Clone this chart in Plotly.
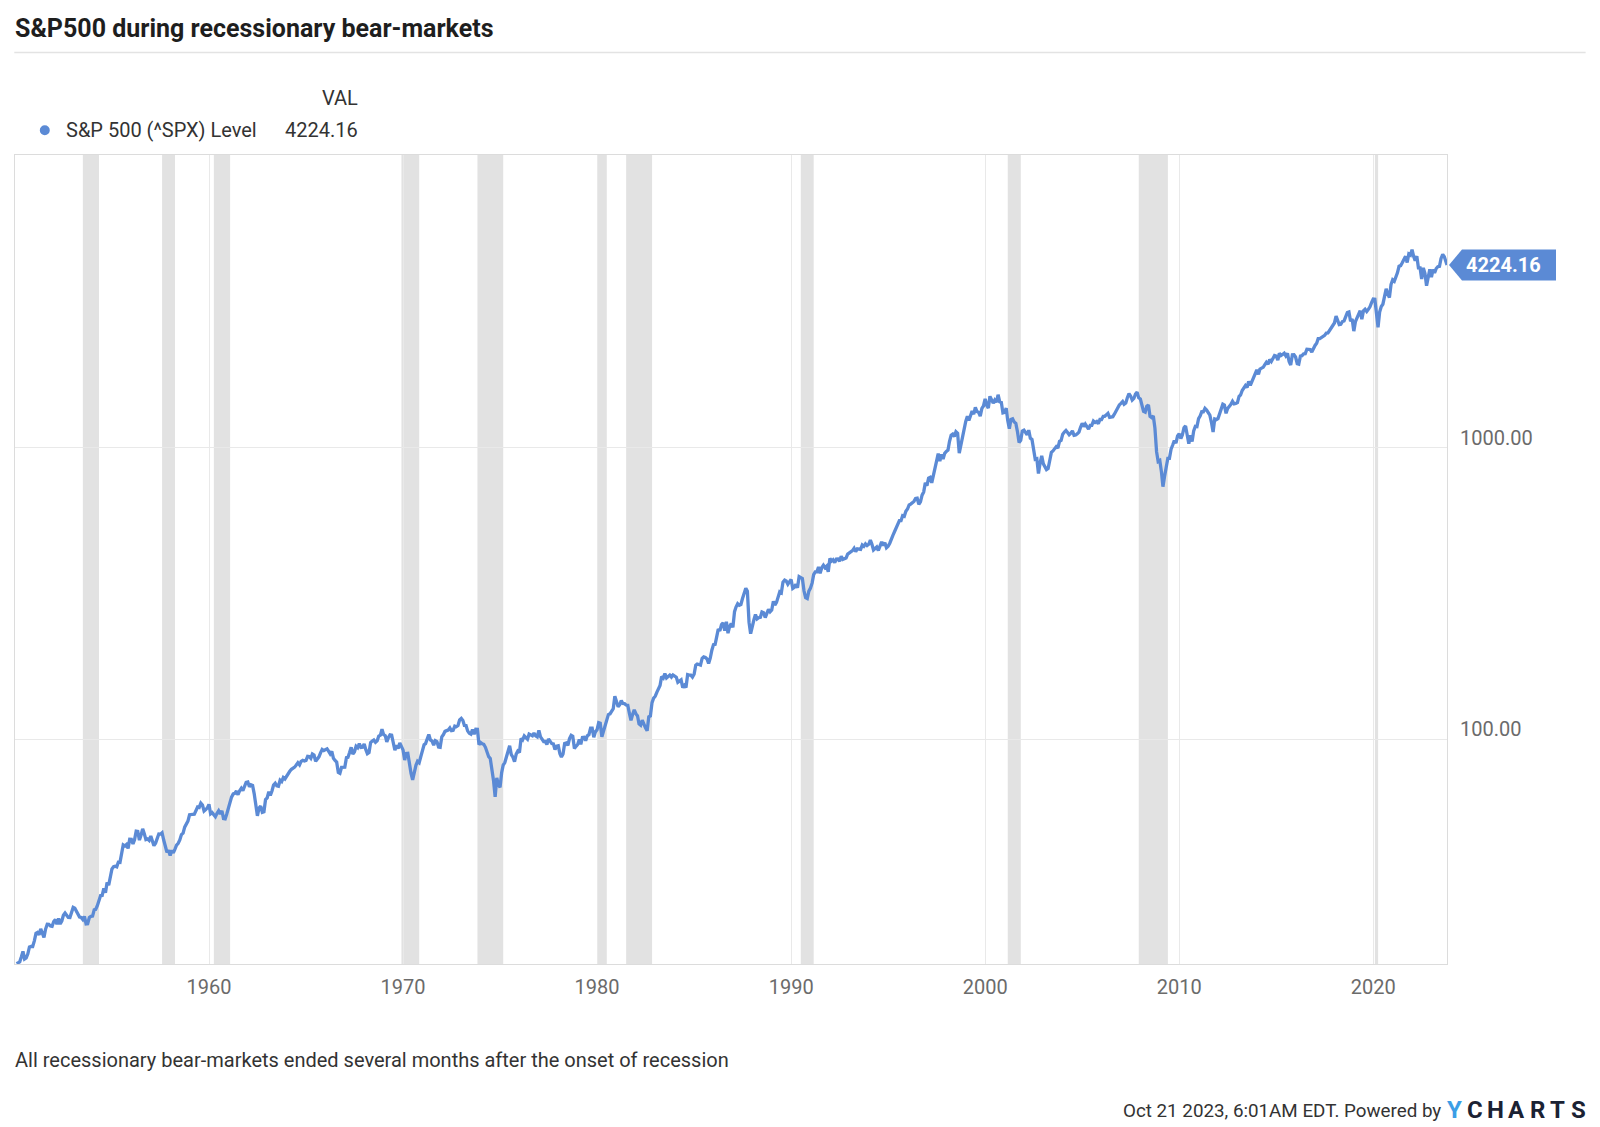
import math
import pandas as pd
import plotly.graph_objects as go

# ---------------- DATA (monthly closes, S&P 500) ----------------
spx_1950s = [
    17.05, 17.22, 17.29, 17.96, 18.78, 17.69, 17.84, 18.42, 19.45, 19.53, 19.51, 20.41,
    21.66, 21.80, 21.40, 22.43, 21.52, 20.96, 22.40, 23.28, 23.26, 22.94, 22.88, 23.77,
    24.14, 23.26, 24.37, 23.32, 23.86, 24.96, 25.40, 25.03, 24.54, 24.52, 25.66, 26.57,
    26.38, 25.90, 25.29, 24.62, 24.54, 24.14, 24.75, 23.32, 23.35, 24.54, 24.76, 24.81,
    26.08, 26.15, 26.94, 28.26, 29.19, 29.21, 30.88, 29.83, 32.31, 31.68, 34.24, 35.98,
    36.63, 36.76, 36.58, 37.96, 37.91, 41.03, 43.52, 43.18, 43.67, 42.34, 45.51, 45.48,
    43.82, 45.34, 48.48, 48.38, 45.20, 46.97, 49.39, 47.51, 45.35, 45.58, 45.08, 46.67,
    44.72, 43.26, 44.11, 45.74, 47.43, 47.37, 47.91, 45.22, 42.42, 41.06, 41.72, 39.99,
    41.70, 40.84, 42.10, 43.44, 44.09, 45.24, 47.19, 47.75, 50.06, 51.33, 52.48, 55.21,
    55.42, 55.41, 55.44, 57.59, 58.68, 58.47, 60.51, 59.60, 56.88, 57.52, 58.28, 59.89,
]
spx_1960s = [
    55.61, 56.12, 55.34, 54.37, 55.83, 56.92, 55.51, 56.96, 53.52, 53.39, 55.54, 58.11,
    61.78, 63.44, 65.06, 65.31, 66.56, 64.64, 66.76, 68.07, 66.73, 68.62, 71.32, 71.55,
    68.84, 69.96, 69.55, 65.24, 59.63, 54.75, 58.23, 59.12, 56.27, 56.52, 62.26, 63.10,
    66.20, 64.29, 66.57, 69.80, 70.80, 69.37, 69.13, 72.50, 71.70, 74.01, 73.23, 75.02,
    77.04, 77.80, 78.98, 79.46, 80.37, 81.69, 83.18, 81.83, 84.18, 84.86, 84.42, 84.75,
    87.56, 87.43, 86.16, 89.11, 88.42, 84.12, 85.25, 87.17, 89.96, 92.42, 91.61, 92.43,
    92.88, 91.22, 89.23, 91.06, 86.13, 84.74, 83.60, 77.10, 76.56, 80.20, 80.45, 80.33,
    86.61, 86.78, 90.20, 94.01, 89.08, 90.64, 94.75, 93.64, 96.71, 93.90, 94.00, 96.47,
    92.24, 89.36, 90.20, 97.59, 98.68, 99.58, 97.74, 98.86, 102.67, 103.41, 108.37, 103.86,
    103.01, 98.13, 101.51, 103.69, 103.46, 97.71, 91.83, 95.51, 93.12, 97.24, 93.81, 92.06,
]
spx_1970s = [
    85.02, 89.50, 89.63, 81.52, 76.55, 72.72, 78.05, 81.52, 84.21, 83.25, 87.20, 92.15,
    95.88, 96.75, 100.31, 103.95, 99.63, 98.70, 95.58, 99.03, 98.34, 94.23, 93.99, 102.09,
    103.94, 106.57, 107.20, 107.67, 109.53, 107.14, 107.39, 111.09, 110.55, 111.58, 116.67, 118.05,
    116.03, 111.68, 111.52, 106.97, 104.95, 104.26, 108.22, 104.25, 108.43, 108.29, 95.96, 97.55,
    96.57, 96.22, 93.98, 90.31, 87.28, 86.00, 79.31, 72.15, 63.54, 73.90, 69.97, 68.56,
    76.98, 81.59, 83.36, 87.30, 91.15, 95.19, 88.75, 86.88, 83.87, 89.04, 91.24, 90.19,
    100.86, 99.71, 102.77, 101.64, 100.18, 104.28, 103.44, 102.91, 105.24, 102.90, 102.10, 107.46,
    102.03, 99.82, 98.42, 98.44, 96.12, 100.48, 98.85, 96.77, 96.53, 92.34, 94.83, 95.10,
    89.25, 87.04, 89.21, 96.83, 97.24, 95.53, 100.68, 103.29, 102.54, 93.15, 94.70, 96.11,
    99.93, 96.28, 101.59, 101.76, 99.08, 102.91, 103.81, 109.32, 109.32, 101.82, 106.16, 107.94,
]
spx_1980s = [
    114.16, 113.66, 102.09, 106.29, 111.24, 114.24, 121.67, 122.38, 125.46, 127.47, 140.52, 135.76,
    129.55, 131.27, 136.00, 132.81, 132.59, 131.21, 130.92, 122.79, 116.18, 121.89, 126.35, 122.55,
    120.40, 113.11, 111.96, 116.44, 111.88, 109.61, 107.09, 119.51, 120.42, 133.71, 138.54, 140.64,
    145.30, 148.06, 152.96, 164.42, 162.39, 168.11, 162.56, 164.40, 166.07, 163.55, 166.40, 164.93,
    163.41, 157.06, 159.18, 160.05, 150.55, 153.18, 150.66, 166.68, 166.10, 166.09, 163.58, 167.24,
    179.63, 181.18, 180.66, 179.83, 189.55, 191.85, 190.92, 188.63, 182.08, 189.82, 202.17, 211.28,
    211.78, 226.92, 238.90, 235.52, 247.35, 250.84, 236.12, 252.93, 231.32, 243.98, 249.22, 242.17,
    274.08, 284.20, 291.70, 288.36, 290.10, 304.00, 318.66, 329.80, 321.83, 251.79, 230.30, 247.08,
    257.07, 267.82, 258.89, 261.33, 262.16, 273.50, 272.02, 261.52, 271.91, 278.97, 273.70, 277.72,
    297.47, 288.86, 294.87, 309.64, 320.52, 317.98, 346.08, 351.45, 349.15, 340.36, 345.99, 353.40,
]
spx_1990s = [
    329.08, 331.89, 339.94, 330.80, 361.23, 358.02, 356.15, 322.56, 306.05, 304.00, 322.22, 330.22,
    343.93, 367.07, 375.22, 375.35, 389.83, 371.16, 387.81, 395.43, 387.86, 392.46, 375.22, 417.09,
    408.79, 412.70, 403.69, 414.95, 415.35, 408.14, 424.21, 414.03, 417.80, 418.68, 431.35, 435.71,
    438.78, 443.38, 451.67, 440.19, 450.19, 450.53, 448.13, 463.56, 458.93, 467.83, 461.79, 466.45,
    481.61, 467.14, 445.77, 450.91, 456.50, 444.27, 458.26, 475.49, 462.69, 472.35, 453.69, 459.27,
    470.42, 487.39, 500.71, 514.71, 533.40, 544.75, 562.06, 561.88, 584.41, 581.50, 605.37, 615.93,
    636.02, 640.43, 645.50, 654.17, 669.12, 670.63, 639.95, 651.99, 687.31, 705.27, 757.02, 740.74,
    786.16, 790.82, 757.12, 801.34, 848.28, 885.14, 954.29, 899.47, 947.28, 914.62, 955.40, 970.43,
    980.28, 1049.34, 1101.75, 1111.75, 1090.82, 1133.84, 1120.67, 957.28, 1017.01, 1098.67, 1163.63, 1229.23,
    1279.64, 1238.33, 1286.37, 1335.18, 1301.84, 1372.71, 1328.72, 1320.41, 1282.71, 1362.93, 1388.91, 1469.25,
]
spx_2000s = [
    1394.46, 1366.42, 1498.58, 1452.43, 1420.60, 1454.60, 1430.83, 1517.68, 1436.51, 1429.40, 1314.95, 1320.28,
    1366.01, 1239.94, 1160.33, 1249.46, 1255.82, 1224.42, 1211.23, 1133.58, 1040.94, 1059.78, 1139.45, 1148.08,
    1130.20, 1106.73, 1147.39, 1076.92, 1067.14, 989.82, 911.62, 916.07, 815.28, 885.76, 936.31, 879.82,
    855.70, 841.15, 848.18, 916.92, 963.59, 974.50, 990.31, 1008.01, 995.97, 1050.71, 1058.20, 1111.92,
    1131.13, 1144.94, 1126.21, 1107.30, 1120.68, 1140.84, 1101.72, 1104.24, 1114.58, 1130.20, 1173.82, 1211.92,
    1181.27, 1203.60, 1180.59, 1156.85, 1191.50, 1191.33, 1234.18, 1220.33, 1228.81, 1207.01, 1249.48, 1248.29,
    1280.08, 1280.66, 1294.87, 1310.61, 1270.09, 1270.20, 1276.66, 1303.82, 1335.85, 1377.94, 1400.63, 1418.30,
    1438.24, 1406.82, 1420.86, 1482.37, 1530.62, 1503.35, 1455.27, 1473.99, 1526.75, 1549.38, 1481.14, 1468.36,
    1378.55, 1330.63, 1322.70, 1385.59, 1400.38, 1280.00, 1267.38, 1282.83, 1166.36, 968.75, 896.24, 903.25,
    825.88, 735.09, 797.87, 872.81, 919.14, 919.32, 987.48, 1020.62, 1057.08, 1036.19, 1095.63, 1115.10,
]
spx_2010s = [
    1073.87, 1104.49, 1169.43, 1186.69, 1089.41, 1030.71, 1101.60, 1049.33, 1141.20, 1183.26, 1180.55, 1257.64,
    1286.12, 1327.22, 1325.83, 1363.61, 1345.20, 1320.64, 1292.28, 1218.89, 1131.42, 1253.30, 1246.96, 1257.60,
    1312.41, 1365.68, 1408.47, 1397.91, 1310.33, 1362.16, 1379.32, 1406.58, 1440.67, 1412.16, 1416.18, 1426.19,
    1498.11, 1514.68, 1569.19, 1597.57, 1630.74, 1606.28, 1685.73, 1632.97, 1681.55, 1756.54, 1805.81, 1848.36,
    1782.59, 1859.45, 1872.34, 1883.95, 1923.57, 1960.23, 1930.67, 2003.37, 1972.29, 2018.05, 2067.56, 2058.90,
    1994.99, 2104.50, 2067.89, 2085.51, 2107.39, 2063.11, 2103.84, 1972.18, 1920.03, 2079.36, 2080.41, 2043.94,
    1940.24, 1932.23, 2059.74, 2065.30, 2096.95, 2098.86, 2173.60, 2170.95, 2168.27, 2126.15, 2198.81, 2238.83,
    2278.87, 2363.64, 2362.72, 2384.20, 2411.80, 2423.41, 2470.30, 2471.65, 2519.36, 2575.26, 2647.58, 2673.61,
    2823.81, 2713.83, 2640.87, 2648.05, 2705.27, 2718.37, 2816.29, 2901.52, 2913.98, 2711.74, 2760.17, 2506.85,
    2704.10, 2784.49, 2834.40, 2945.83, 2752.06, 2941.76, 2980.38, 2926.46, 2976.74, 3037.56, 3140.98, 3230.78,
]
spx_2020s = [
    3225.52, 2954.22, 2584.59, 2912.43, 3044.31, 3100.29, 3271.12, 3500.31, 3363.00, 3269.96, 3621.63, 3756.07,
    3714.24, 3811.15, 3972.89, 4181.17, 4204.11, 4297.50, 4395.26, 4522.68, 4307.54, 4605.38, 4567.00, 4766.18,
    4515.55, 4373.94, 4530.41, 4131.93, 4132.15, 3785.38, 4130.29, 3955.00, 3585.62, 3871.98, 4080.11, 3839.50,
    4076.60, 3970.15, 4109.31, 4169.48, 4179.83, 4450.38, 4588.96, 4507.66, 4288.05,
]
first_month = "1950-01-01"
last_date = "2023-10-20"
last_value = 4224.16

recession_starts = ["1953-07-01", "1957-08-01", "1960-04-01", "1969-12-01", "1973-11-01",
                    "1980-01-01", "1981-07-01", "1990-07-01", "2001-03-01", "2007-12-01", "2020-02-01"]
recession_ends = ["1954-05-01", "1958-04-01", "1961-02-01", "1970-11-01", "1975-03-01",
                  "1980-07-01", "1982-11-01", "1991-03-01", "2001-11-01", "2009-06-01", "2020-04-01"]

x_tick_dates = ["1960-01-01", "1970-01-01", "1980-01-01", "1990-01-01", "2000-01-01", "2010-01-01", "2020-01-01"]
x_tick_labels = ["1960", "1970", "1980", "1990", "2000", "2010", "2020"]
y_tick_values = [100, 1000]
y_tick_labels = ["100.00", "1000.00"]

title_text = "S&P500 during recessionary bear-markets"
series_name = "S&P 500 (^SPX) Level"
footnote_text = "All recessionary bear-markets ended several months after the onset of recession"
stamp_text = "Oct 21 2023, 6:01AM EDT. Powered by"

# ---------------- BUILD ----------------
monthly = spx_1950s + spx_1960s + spx_1970s + spx_1980s + spx_1990s + spx_2000s + spx_2010s + spx_2020s
month_ends = pd.date_range(first_month, periods=len(monthly), freq="MS") + pd.offsets.MonthEnd(0)
dates = list(month_ends) + [pd.Timestamp(last_date)]
values = monthly + [last_value]

W, H = 1600, 1127
L, R, T, B = 14.7, 152.7, 155.3, 163.3
PW, PH = W - L - R, H - T - B
Y_RANGE = [1.2305, 4.0027]


def px(x):
    return (x - L) / PW


def py(y):
    return (H - B - y) / PH


LINE = "#5b8ad5"
FONT = "Roboto"

fig = go.Figure()
fig.add_trace(go.Scatter(x=dates, y=values, mode="lines", name=series_name,
                         line=dict(color=LINE, width=3.3), hoverinfo="skip"))

shapes = []
for s, e in zip(recession_starts, recession_ends):
    shapes.append(dict(type="rect", xref="x", yref="paper", x0=s, x1=e, y0=0, y1=1,
                       fillcolor="#e2e2e2", line=dict(width=0), layer="between"))

# separator line under title
shapes.append(dict(type="line", xref="paper", yref="paper", x0=px(14), x1=px(1586),
                   y0=py(53), y1=py(53), line=dict(color="#e3e3e3", width=1.5)))
# legend dot
shapes.append(dict(type="circle", xref="paper", yref="paper", x0=px(39.5), x1=px(49.5),
                   y0=py(125.6), y1=py(135.6), fillcolor=LINE, line=dict(width=0)))
# last-value tag (positioned from the last value on the log scale)
ylast = math.log10(last_value)
ylast_paper = (ylast - Y_RANGE[0]) / (Y_RANGE[1] - Y_RANGE[0])
shapes.append(dict(type="path", xref="paper", yref="paper", xsizemode="pixel", ysizemode="pixel",
                   xanchor=1, yanchor=ylast_paper,
                   path="M 2,0 L 15,-15.5 L 109,-15.5 L 109,15.5 L 15,15.5 Z",
                   fillcolor=LINE, line=dict(width=0)))

annotations = [
    dict(text="<b>" + title_text + "</b>", x=px(13), y=py(29), xanchor="left", yanchor="middle",
         font=dict(size=25, color="#1e1e1e")),
    dict(text="VAL", x=px(360), y=py(98), xanchor="right", yanchor="middle",
         font=dict(size=20, color="#333333")),
    dict(text=series_name, x=px(64), y=py(130.6), xanchor="left", yanchor="middle",
         font=dict(size=20, color="#333333")),
    dict(text=f"{last_value:.2f}", x=px(360), y=py(130.6), xanchor="right", yanchor="middle",
         font=dict(size=20, color="#333333")),
    dict(text=footnote_text, x=px(13), y=py(1060), xanchor="left", yanchor="middle",
         font=dict(size=20, color="#333333")),
    dict(text=stamp_text, x=px(1443), y=py(1111), xanchor="right", yanchor="middle",
         font=dict(size=18.8, color="#333333")),
    dict(text=f"<b>{last_value:.2f}</b>", y=ylast_paper, x=1, xshift=56,
         xanchor="center", yanchor="middle", font=dict(size=20, color="white")),
]
# right-hand y tick labels (sit just above their gridlines)
for v, lab in zip(y_tick_values, y_tick_labels):
    annotations.append(dict(text=lab, xref="paper", yref="y", x=1, y=math.log10(v),
                            xshift=11, yshift=10, xanchor="left", yanchor="middle",
                            font=dict(size=20, color="#6b6b6b")))
logo = "YCHARTS"
for i, ch in enumerate(logo):
    annotations.append(dict(text=f"<b>{ch}</b>", x=px(1455 + i * 20.6), y=py(1110),
                            xanchor="center", yanchor="middle",
                            font=dict(size=24, color="#3b9ee6" if i == 0 else "#1b2233",
                                      family="Roboto")))
for a in annotations:
    a.setdefault("xref", "paper")
    a.setdefault("yref", "paper")
    a["showarrow"] = False

fig.update_layout(
    width=W, height=H,
    margin=dict(l=L, r=R, t=T, b=B),
    paper_bgcolor="white", plot_bgcolor="white",
    showlegend=False,
    font=dict(family=FONT, color="#333333"),
    shapes=shapes, annotations=annotations,
    xaxis=dict(type="date", range=[first_month, last_date],
               tickvals=x_tick_dates, ticktext=x_tick_labels,
               showgrid=True, gridcolor="#e9e9e9", gridwidth=1,
               showline=True, mirror=True, linecolor="#dcdcdc", linewidth=1,
               ticks="", ticklabelstandoff=5,
               tickfont=dict(size=20, color="#6b6b6b"), zeroline=False),
    yaxis=dict(type="log", range=Y_RANGE, side="right",
               tickvals=y_tick_values, showticklabels=False,
               showgrid=True, gridcolor="#e9e9e9", gridwidth=1,
               showline=True, mirror=True, linecolor="#dcdcdc", linewidth=1,
               ticks="", zeroline=False),
)

fig.write_html("out.html", config={"displayModeBar": False},
               post_script="document.body.style.margin='0';document.body.style.overflow='hidden';")
